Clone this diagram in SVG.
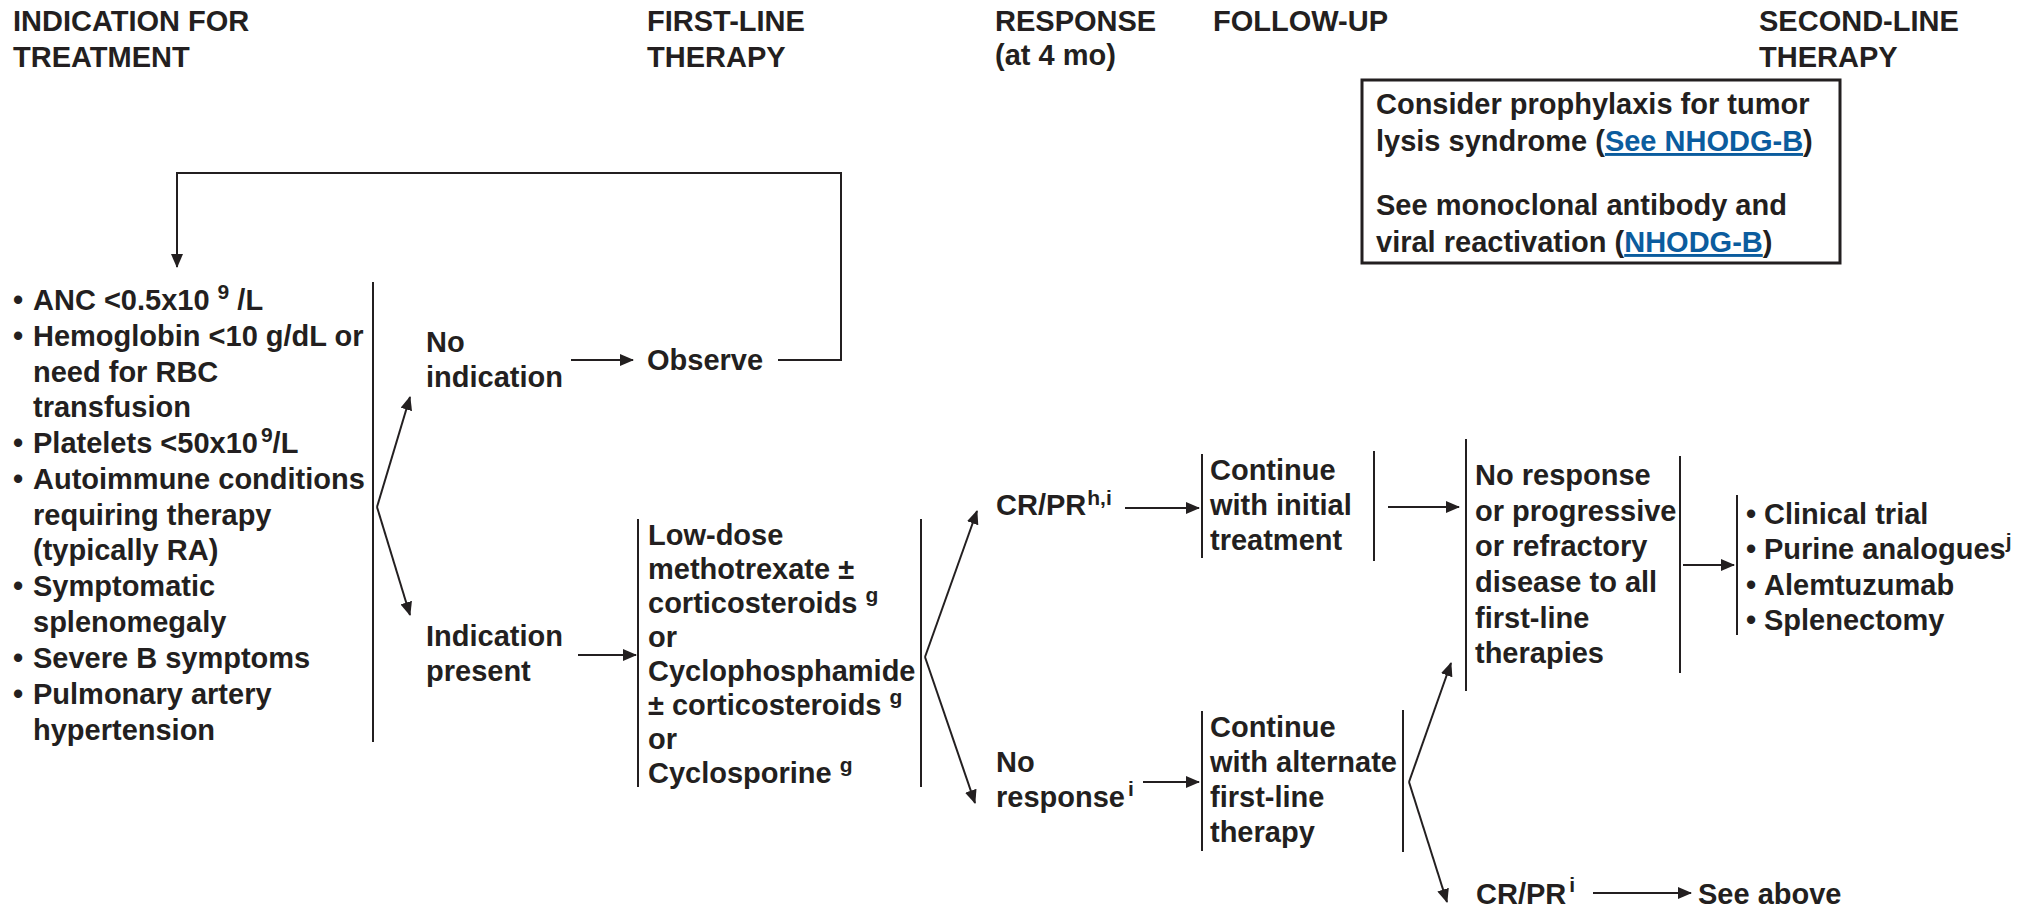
<svg xmlns="http://www.w3.org/2000/svg" width="2028" height="907" viewBox="0 0 2028 907">
<defs>
<style>
text { font-family: "Liberation Sans", Arial, Helvetica, sans-serif; font-weight: bold; font-size: 29px; fill: #231f20; }
.sup { font-size: 21px; }
.link { fill: #0b5c9e; text-decoration: underline; }
.ln { stroke: #231f20; stroke-width: 2; fill: none; }
.arr { stroke: #231f20; stroke-width: 2; fill: none; marker-end: url(#ah); }
.box { fill: #ffffff; stroke: #231f20; stroke-width: 3; }
</style>
<marker id="ah" markerUnits="userSpaceOnUse" markerWidth="14" markerHeight="12" refX="13" refY="6" orient="auto">
<path d="M0,0 L14,6 L0,12 z" fill="#231f20"/>
</marker>
</defs>
<rect width="2028" height="907" fill="#ffffff"/>

<g id="headers">
<text x="13" y="31">INDICATION FOR</text>
<text x="13" y="67">TREATMENT</text>
<text x="647" y="31">FIRST-LINE</text>
<text x="647" y="67">THERAPY</text>
<text x="995" y="31">RESPONSE</text>
<text x="995" y="65">(at 4 mo)</text>
<text x="1213" y="31">FOLLOW-UP</text>
<text x="1759" y="31">SECOND-LINE</text>
<text x="1759" y="67">THERAPY</text>
</g>

<g id="node-note">
<rect class="box" x="1362" y="80" width="478" height="183"/>
<text x="1376" y="114">Consider prophylaxis for tumor</text>
<text x="1376" y="151">lysis syndrome (<tspan class="link">See NHODG-B</tspan>)</text>
<text x="1376" y="215">See monoclonal antibody and</text>
<text x="1376" y="252">viral reactivation (<tspan class="link">NHODG-B</tspan>)</text>
</g>

<g id="node-criteria">
<line class="ln" x1="373" y1="282" x2="373" y2="742"/>
<text x="13" y="310">•</text>
<text x="33" y="310">ANC &lt;0.5x10 <tspan class="sup" dy="-11">9</tspan><tspan dy="11"> /L</tspan></text>
<text x="13" y="346">•</text>
<text x="33" y="346">Hemoglobin &lt;10 g/dL or</text>
<text x="33" y="382">need for RBC</text>
<text x="33" y="417">transfusion</text>
<text x="13" y="453">•</text>
<text x="33" y="453">Platelets &lt;50x10<tspan class="sup" dx="3" dy="-11">9</tspan><tspan dy="11">/L</tspan></text>
<text x="13" y="489">•</text>
<text x="33" y="489">Autoimmune conditions</text>
<text x="33" y="525">requiring therapy</text>
<text x="33" y="560">(typically RA)</text>
<text x="13" y="596">•</text>
<text x="33" y="596">Symptomatic</text>
<text x="33" y="632">splenomegaly</text>
<text x="13" y="668">•</text>
<text x="33" y="668">Severe B symptoms</text>
<text x="13" y="704">•</text>
<text x="33" y="704">Pulmonary artery</text>
<text x="33" y="740">hypertension</text>
</g>

<g id="node-no-indication">
<text x="426" y="352">No</text>
<text x="426" y="387">indication</text>
</g>

<g id="node-observe">
<text x="647" y="370">Observe</text>
</g>

<g id="node-indication-present">
<text x="426" y="646">Indication</text>
<text x="426" y="681">present</text>
</g>

<g id="node-first-line">
<line class="ln" x1="638" y1="519" x2="638" y2="787"/>
<line class="ln" x1="921" y1="519" x2="921" y2="787"/>
<text x="648" y="545">Low-dose</text>
<text x="648" y="579">methotrexate ±</text>
<text x="648" y="613">corticosteroids <tspan class="sup" dy="-11">g</tspan></text>
<text x="648" y="647">or</text>
<text x="648" y="681">Cyclophosphamide</text>
<text x="648" y="715">± corticosteroids <tspan class="sup" dy="-11">g</tspan></text>
<text x="648" y="749">or</text>
<text x="648" y="783">Cyclosporine <tspan class="sup" dy="-11">g</tspan></text>
</g>

<g id="node-crpr">
<text x="996" y="515">CR/PR<tspan class="sup" dx="1" dy="-10">h,i</tspan></text>
</g>

<g id="node-no-response">
<text x="996" y="772">No</text>
<text x="996" y="807">response<tspan class="sup" dx="3" dy="-11">i</tspan></text>
</g>

<g id="node-continue-initial">
<line class="ln" x1="1202" y1="454" x2="1202" y2="558"/>
<line class="ln" x1="1374" y1="451" x2="1374" y2="561"/>
<text x="1210" y="480">Continue</text>
<text x="1210" y="515">with initial</text>
<text x="1210" y="550">treatment</text>
</g>

<g id="node-continue-alternate">
<line class="ln" x1="1202" y1="711" x2="1202" y2="851"/>
<line class="ln" x1="1403" y1="710" x2="1403" y2="852"/>
<text x="1210" y="737">Continue</text>
<text x="1210" y="772">with alternate</text>
<text x="1210" y="807">first-line</text>
<text x="1210" y="842">therapy</text>
</g>

<g id="node-refractory">
<line class="ln" x1="1466" y1="439" x2="1466" y2="691"/>
<line class="ln" x1="1680" y1="456" x2="1680" y2="673"/>
<text x="1475" y="485">No response</text>
<text x="1475" y="521">or progressive</text>
<text x="1475" y="556">or refractory</text>
<text x="1475" y="592">disease to all</text>
<text x="1475" y="628">first-line</text>
<text x="1475" y="663">therapies</text>
</g>

<g id="node-second-line">
<line class="ln" x1="1737" y1="495" x2="1737" y2="635"/>
<text x="1746" y="524">•</text>
<text x="1764" y="524">Clinical trial</text>
<text x="1746" y="559">•</text>
<text x="1764" y="559">Purine analogues<tspan class="sup" dy="-11">j</tspan></text>
<text x="1746" y="595">•</text>
<text x="1764" y="595">Alemtuzumab</text>
<text x="1746" y="630">•</text>
<text x="1764" y="630">Splenectomy</text>
</g>

<g id="node-crpr-2">
<text x="1476" y="904">CR/PR<tspan class="sup" dx="3" dy="-12">i</tspan></text>
</g>

<g id="node-see-above">
<text x="1698" y="904">See above</text>
</g>

<g id="connectors">
<path class="arr" d="M778,360 H841 V173 H177 V267"/>
<path class="arr" d="M571,360 H633"/>
<path class="arr" d="M377,507 L410,397"/>
<path class="arr" d="M377,507 L410,615"/>
<path class="arr" d="M578,655 H636"/>
<path class="arr" d="M925,657 L977,511"/>
<path class="arr" d="M925,657 L975,803"/>
<path class="arr" d="M1125,508 H1199"/>
<path class="arr" d="M1143,782 H1199"/>
<path class="arr" d="M1388,507 H1459"/>
<path class="arr" d="M1683,565 H1734"/>
<path class="arr" d="M1409,782 L1451,663"/>
<path class="arr" d="M1409,782 L1447,902"/>
<path class="arr" d="M1593,893 H1691"/>
</g>
</svg>
